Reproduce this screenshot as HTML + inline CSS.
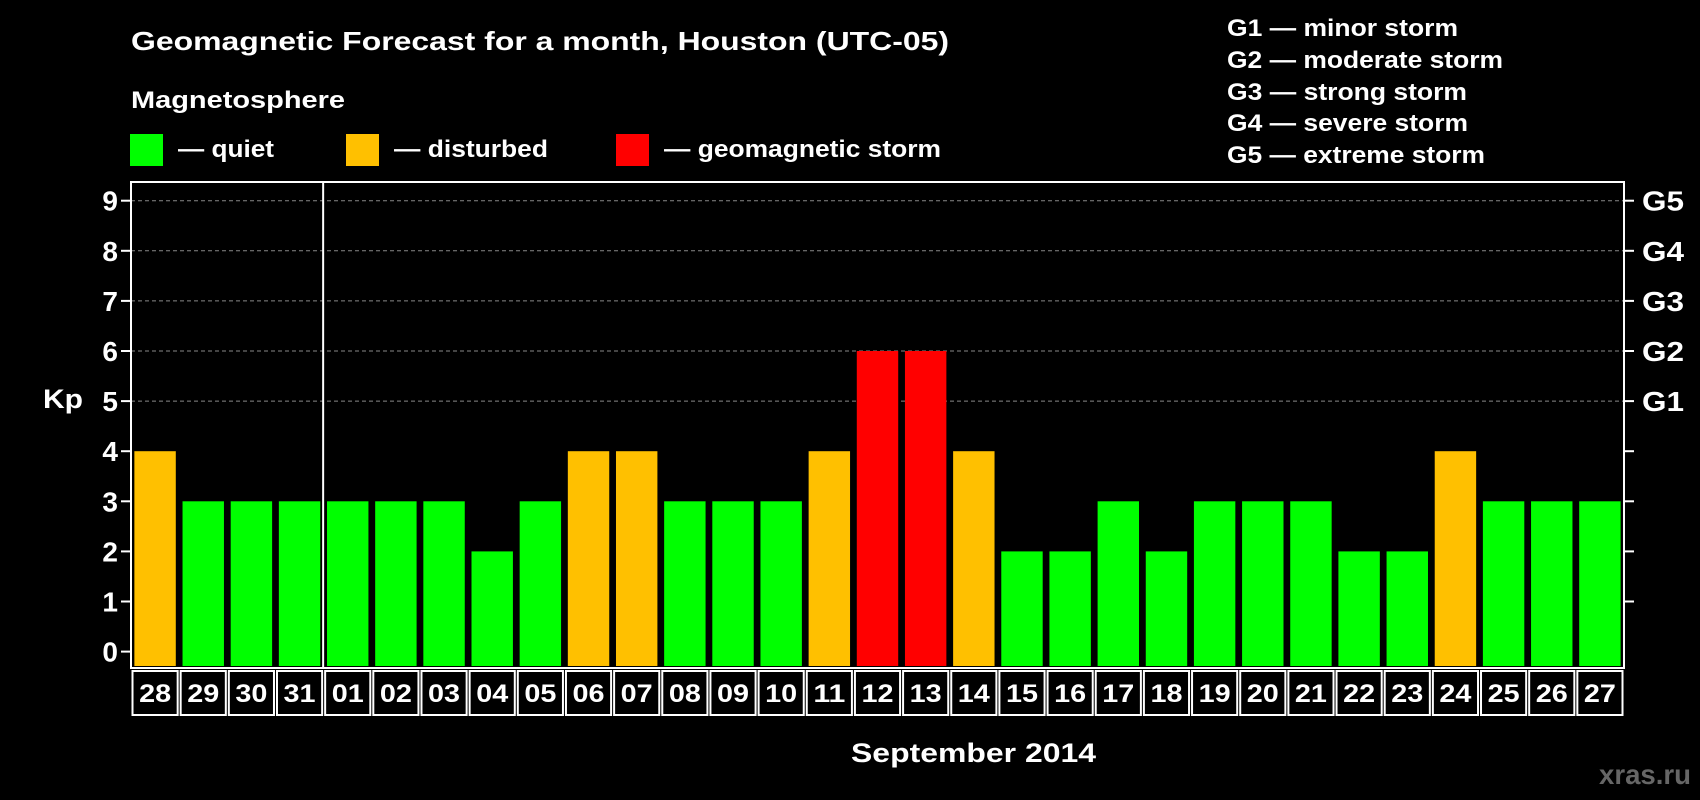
<!DOCTYPE html>
<html><head><meta charset="utf-8"><style>
body{margin:0;background:#000;}
svg{display:block;font-family:"Liberation Sans",Arial,sans-serif;font-weight:bold;}
</style></head><body>
<svg id="c" width="1700" height="800" viewBox="0 0 1700 800">
<rect width="1700" height="800" fill="#000"/>
<text x="131" y="50" fill="#fff" font-size="26" textLength="818" lengthAdjust="spacingAndGlyphs">Geomagnetic Forecast for a month, Houston (UTC-05)</text>
<text x="131" y="108" fill="#fff" font-size="24" textLength="214" lengthAdjust="spacingAndGlyphs">Magnetosphere</text>
<g><rect x="130" y="134" width="33" height="32" fill="#00ff00"/><text x="178" y="157" fill="#fff" font-size="24" textLength="96" lengthAdjust="spacingAndGlyphs">— quiet</text></g>
<g><rect x="346" y="134" width="33" height="32" fill="#ffc000"/><text x="394" y="157" fill="#fff" font-size="24" textLength="154" lengthAdjust="spacingAndGlyphs">— disturbed</text></g>
<g><rect x="616" y="134" width="33" height="32" fill="#ff0000"/><text x="664" y="157" fill="#fff" font-size="24" textLength="277" lengthAdjust="spacingAndGlyphs">— geomagnetic storm</text></g>
<g fill="#fff" font-size="24">
<text x="1227" y="36" textLength="231" lengthAdjust="spacingAndGlyphs">G1 — minor storm</text>
<text x="1227" y="68" textLength="276" lengthAdjust="spacingAndGlyphs">G2 — moderate storm</text>
<text x="1227" y="100" textLength="240" lengthAdjust="spacingAndGlyphs">G3 — strong storm</text>
<text x="1227" y="131" textLength="241" lengthAdjust="spacingAndGlyphs">G4 — severe storm</text>
<text x="1227" y="163" textLength="258" lengthAdjust="spacingAndGlyphs">G5 — extreme storm</text>
</g>
<text x="43" y="408" fill="#fff" font-size="27" textLength="40" lengthAdjust="spacingAndGlyphs">Kp</text>
<text x="851" y="762" fill="#fff" font-size="27" textLength="245" lengthAdjust="spacingAndGlyphs">September 2014</text>
<text x="1599" y="784" fill="#666" font-size="28" textLength="92" lengthAdjust="spacingAndGlyphs">xras.ru</text>
<g id="plot"></g>
</svg>
<script>
const days=["28","29","30","31","01","02","03","04","05","06","07","08","09","10","11","12","13","14","15","16","17","18","19","20","21","22","23","24","25","26","27"];
const kp=[4,3,3,3,3,3,3,2,3,4,4,3,3,3,4,6,6,4,2,2,3,2,3,3,3,2,2,4,3,3,3];
const yTicks=[0,1,2,3,4,5,6,7,8,9];
const gLabels=["G1","G2","G3","G4","G5"];
const NS="http://www.w3.org/2000/svg";
const L=131,R=1624,T=182,B=668;
const y0=651.6,unit=50.1;
const slot=(R-L)/days.length;
function y(v){return y0-v*unit;}
function x(i){return L+i*slot;}
function color(v){return v>=5?"#ff0000":(v>=4?"#ffc000":"#00ff00");}
const g=document.getElementById('plot');
function mk(tag,attrs){const e=document.createElementNS(NS,tag);for(const k in attrs)e.setAttribute(k,attrs[k]);g.appendChild(e);return e;}
yTicks.forEach(v=>{
  if(v>=5){const gl=mk('line',{x1:L,x2:R,y1:y(v),y2:y(v),stroke:'#888','stroke-dasharray':'4,3','stroke-width':1});
  
  }
  const t=mk('line',{x1:L-10,x2:L,y1:y(v),y2:y(v),stroke:'#fff','stroke-width':2});
  
  
  const lb=mk('text',{x:L-13,y:y(v)+10,fill:'#fff','font-size':28,'text-anchor':'end'});lb.textContent=v;
  
  
  if(v>=1){const rt=mk('line',{x1:R,x2:R+10,y1:y(v),y2:y(v),stroke:'#fff','stroke-width':2});
  
  }
  if(v>=5){const gt=mk('text',{x:R+18,y:y(v)+10,fill:'#fff','font-size':28,textLength:42,lengthAdjust:'spacingAndGlyphs'});gt.textContent=gLabels[v-5];
  
  }
});
kp.forEach((v,i)=>{
  const bw=slot*0.86;
  const r=mk('rect',{x:x(i)+(slot-bw)/2,y:y(v),width:bw,height:B-2-y(v),fill:color(v)});
  
  
  const c=mk('rect',{x:x(i)+1.5,y:B+3,width:slot-3,height:44,fill:'none',stroke:'#fff','stroke-width':2});
  
  
  const t=mk('text',{x:x(i)+slot/2,y:B+34,fill:'#fff','font-size':25,'text-anchor':'middle',textLength:32,lengthAdjust:'spacingAndGlyphs'});t.textContent=days[i];
  
  
});
const f=mk('rect',{x:L,y:T,width:R-L,height:B-T,fill:'none',stroke:'#fff','stroke-width':2});


const d=mk('line',{x1:x(4)-0.5,x2:x(4)-0.5,y1:T,y2:B,stroke:'#fff','stroke-width':2});


</script>
</body></html>
